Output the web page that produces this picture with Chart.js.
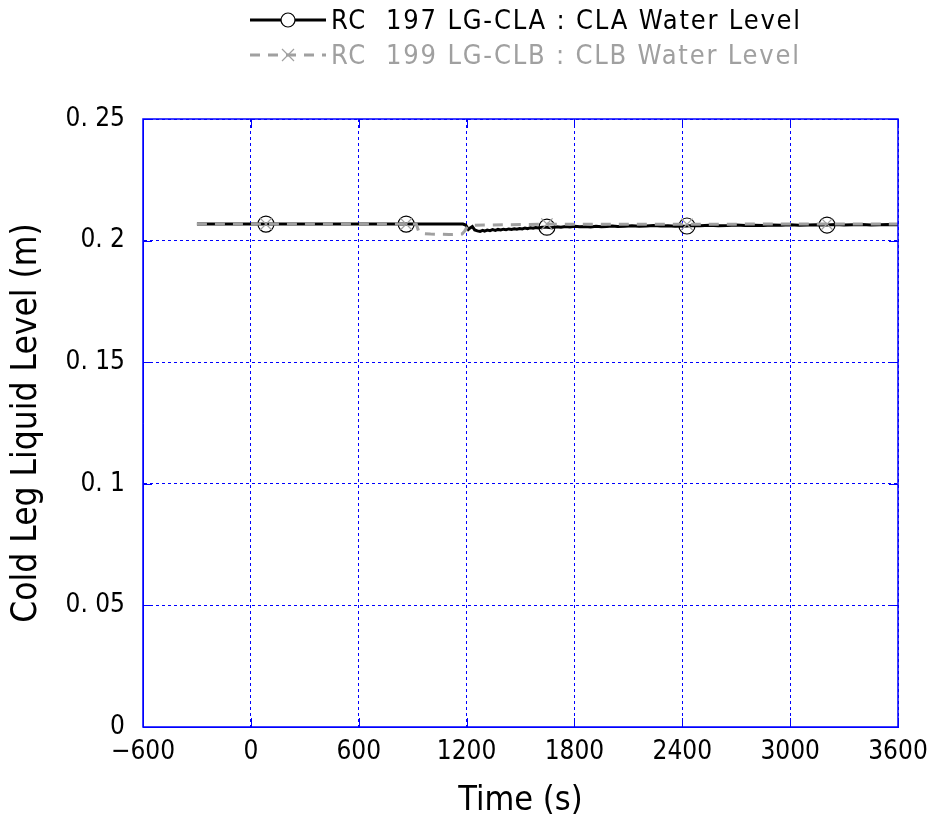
<!DOCTYPE html>
<html>
<head>
<meta charset="utf-8">
<script src="https://cdn.jsdelivr.net/npm/chart.js@4"></script>
<style>
  body { margin: 0; background: #fff; }
  #wrap { position: relative; width: 931px; height: 814px; }
  #legend { position: absolute; left: 250px; top: 2px; font-family: "DejaVu Sans Condensed", sans-serif; font-size: 27px; letter-spacing: 1.8px; }
  .row { display: flex; align-items: center; height: 35px; white-space: pre; }
  .row canvas { margin-right: 5px; }
</style>
</head>
<body>
<div id="wrap">
  <canvas id="myChart"></canvas>
  <div id="legend">
    <div class="row" style="color:#000"><canvas id="symA" width="76" height="30"></canvas><span>RC  197 LG-CLA : CLA Water Level</span></div>
    <div class="row" style="color:#a0a0a0"><canvas id="symB" width="76" height="30"></canvas><span>RC  199 LG-CLB : CLB Water Level</span></div>
  </div>
</div>
<script>
// series A : CLA water level (black, solid, circle markers)
const timeA = [-300, 84, 864, 1180, 1195, 1210, 1220, 1232, 1245, 1260, 1275, 1290, 1300, 1315, 1330, 1345, 1360, 1375, 1390, 1405, 1420, 1435, 1450, 1465, 1480, 1495, 1510, 1525, 1540, 1555, 1570, 1585, 1600, 1620, 1647, 1670, 1700, 1725, 1750, 1775, 1800, 1830, 1860, 1890, 1920, 1950, 1980, 2010, 2040, 2080, 2120, 2160, 2200, 2240, 2280, 2320, 2360, 2426, 2460, 2500, 2550, 2600, 2650, 2700, 2750, 2800, 2850, 2900, 2950, 3000, 3050, 3100, 3150, 3205, 3250, 3300, 3350, 3400, 3450, 3500, 3550, 3600];
const levelA = [0.2068, 0.2068, 0.2068, 0.2068, 0.2064, 0.2046, 0.2052, 0.2058, 0.2044, 0.2040, 0.2038, 0.2042, 0.2039, 0.2043, 0.2041, 0.2045, 0.2042, 0.2046, 0.2044, 0.2047, 0.2045, 0.2048, 0.2046, 0.2049, 0.2047, 0.2050, 0.2048, 0.2052, 0.2049, 0.2053, 0.2051, 0.2054, 0.2052, 0.2055, 0.2055, 0.2053, 0.2057, 0.2055, 0.2058, 0.2056, 0.2059, 0.2057, 0.2058, 0.2056, 0.2059, 0.2057, 0.2058, 0.2060, 0.2058, 0.2059, 0.2061, 0.2059, 0.2060, 0.2062, 0.2060, 0.2061, 0.2059, 0.2060, 0.2062, 0.2061, 0.2063, 0.2061, 0.2062, 0.2064, 0.2062, 0.2063, 0.2062, 0.2064, 0.2063, 0.2065, 0.2063, 0.2064, 0.2065, 0.2064, 0.2066, 0.2064, 0.2065, 0.2066, 0.2064, 0.2065, 0.2066, 0.2065];
const markTimesA = [84, 864, 1647, 2426, 3205];

// series B : CLB water level (grey, dashed, x markers)
const timeB = [-300, 84, 864, 920, 935, 960, 1000, 1050, 1100, 1150, 1175, 1190, 1205, 1230, 1300, 1400, 1500, 1647, 1800, 2000, 2426, 2800, 3205, 3600];
const levelB = [0.2068, 0.2068, 0.2068, 0.2068, 0.2035, 0.2029, 0.2027, 0.2026, 0.2025, 0.2026, 0.2027, 0.2040, 0.2058, 0.2063, 0.2064, 0.2065, 0.2066, 0.2068, 0.2067, 0.2067, 0.2067, 0.2068, 0.2068, 0.2068];
const markTimesB = [84, 864, 1647, 2426, 3205];

const xTicks = [-600, 0, 600, 1200, 1800, 2400, 3000, 3600];
const yTicks = [0, 0.05, 0.1, 0.15, 0.2, 0.25];

const fontName = '"DejaVu Sans Condensed", sans-serif';
const gridBlue = "rgb(0, 0, 255)";

function toPoints(ts, vs) {
  return ts.map((t, i) => ({ x: t, y: vs[i] }));
}

function markerRadius(marks, r) {
  return function (c) {
    const p = c.raw;
    return p && marks.indexOf(p.x) >= 0 ? r : 0;
  };
}

// solid frame plus short inward tick marks on all four sides
const frameTicks = {
  id: "frameTicks",
  afterDatasetsDraw(chart) {
    const { ctx, chartArea: { left, right, top, bottom } } = chart;
    const xs = chart.scales.x, ys = chart.scales.y;
    const len = 9;
    ctx.save();
    ctx.strokeStyle = gridBlue;
    ctx.lineWidth = 1.5;
    ctx.strokeRect(left, top, right - left, bottom - top);
    ctx.lineWidth = 1;
    ctx.beginPath();
    xTicks.forEach((t) => {
      const px = Math.round(xs.getPixelForValue(t)) + 0.5;
      ctx.moveTo(px, bottom); ctx.lineTo(px, bottom - len);
      ctx.moveTo(px, top); ctx.lineTo(px, top + len);
    });
    yTicks.forEach((v) => {
      const py = Math.round(ys.getPixelForValue(v)) + 0.5;
      ctx.moveTo(left, py); ctx.lineTo(left + len, py);
      ctx.moveTo(right, py); ctx.lineTo(right - len, py);
    });
    ctx.stroke();
    ctx.restore();
  },
};

var ctx = document.getElementById("myChart").getContext("2d");
ctx.canvas.width = 931;
ctx.canvas.height = 814;
var myChart = new Chart(ctx, {
  type: "line",
  data: {
    datasets: [
      {
        label: "RC  197 LG-CLA : CLA Water Level",
        data: toPoints(timeA, levelA),
        borderColor: "#000",
        borderWidth: 3,
        pointStyle: "circle",
        pointRadius: markerRadius(markTimesA, 8),
        pointBorderColor: "#000",
        pointBackgroundColor: "rgba(0,0,0,0)",
        pointBorderWidth: 1.2,
        tension: 0,
        order: 2,
      },
      {
        label: "RC  199 LG-CLB : CLB Water Level",
        data: toPoints(timeB, levelB),
        borderColor: "#a0a0a0",
        borderWidth: 3,
        borderDash: [10, 8],
        pointStyle: "crossRot",
        pointRadius: markerRadius(markTimesB, 8),
        pointBorderColor: "#a0a0a0",
        pointBorderWidth: 1.2,
        tension: 0,
        order: 1,
      },
    ],
  },
  options: {
    responsive: false,
    animation: false,
    layout: { padding: { left: 0, right: 33, top: 119, bottom: 0 } },
    plugins: {
      legend: { display: false },
      tooltip: { enabled: false },
    },
    scales: {
      x: {
        type: "linear",
        min: -600,
        max: 3600,
        afterBuildTicks: (s) => { s.ticks = xTicks.map((v) => ({ value: v })); },
        afterFit: (s) => { s.height = 87; s.paddingLeft = 0; s.paddingRight = 0; },
        ticks: {
          color: "#000",
          font: { family: fontName, size: 26 },
          padding: 10,
          maxRotation: 0,
          callback: (v) => (v < 0 ? "\u2212" + Math.abs(v) : String(v)),
        },
        grid: { color: gridBlue, lineWidth: 1, drawTicks: false },
        border: { color: gridBlue, width: 1, dash: [3, 3] },
        title: {
          display: true,
          text: "Time (s)",
          color: "#000",
          font: { family: fontName, size: 34 },
          padding: { top: 4, bottom: -8 },
        },
      },
      y: {
        type: "linear",
        min: 0,
        max: 0.25,
        afterBuildTicks: (s) => { s.ticks = yTicks.map((v) => ({ value: v })); },
        afterFit: (s) => { s.width = 143; s.paddingTop = 0; s.paddingBottom = 0; },
        ticks: {
          color: "#000",
          font: { family: fontName, size: 26 },
          padding: 18,
          callback: (v) => {
            const r = Math.round(v * 100) / 100;
            return r === 0 ? "0" : String(r).replace(".", ". ");
          },
        },
        grid: { color: gridBlue, lineWidth: 1, drawTicks: false },
        border: { color: gridBlue, width: 1, dash: [3, 3] },
        title: {
          display: true,
          text: "Cold Leg Liquid Level (m)",
          color: "#000",
          font: { family: fontName, size: 35 },
          padding: { top: 6, bottom: 0 },
        },
      },
    },
  },
  plugins: [frameTicks],
});

// legend symbols
function drawSym(id, color, dash, marker) {
  const c = document.getElementById(id).getContext("2d");
  c.strokeStyle = color;
  c.lineWidth = 3;
  c.setLineDash(dash);
  c.beginPath();
  c.moveTo(0, 15); c.lineTo(76, 15);
  c.stroke();
  c.setLineDash([]);
  c.lineWidth = 1.2;
  c.beginPath();
  if (marker === "circle") {
    c.fillStyle = "#fff";
    c.arc(38, 15, 7, 0, Math.PI * 2);
    c.fill();
  } else {
    c.moveTo(32, 9); c.lineTo(44, 21);
    c.moveTo(44, 9); c.lineTo(32, 21);
  }
  c.stroke();
}
drawSym("symA", "#000", [], "circle");
drawSym("symB", "#a0a0a0", [10, 8], "cross");
</script>
</body>
</html>
